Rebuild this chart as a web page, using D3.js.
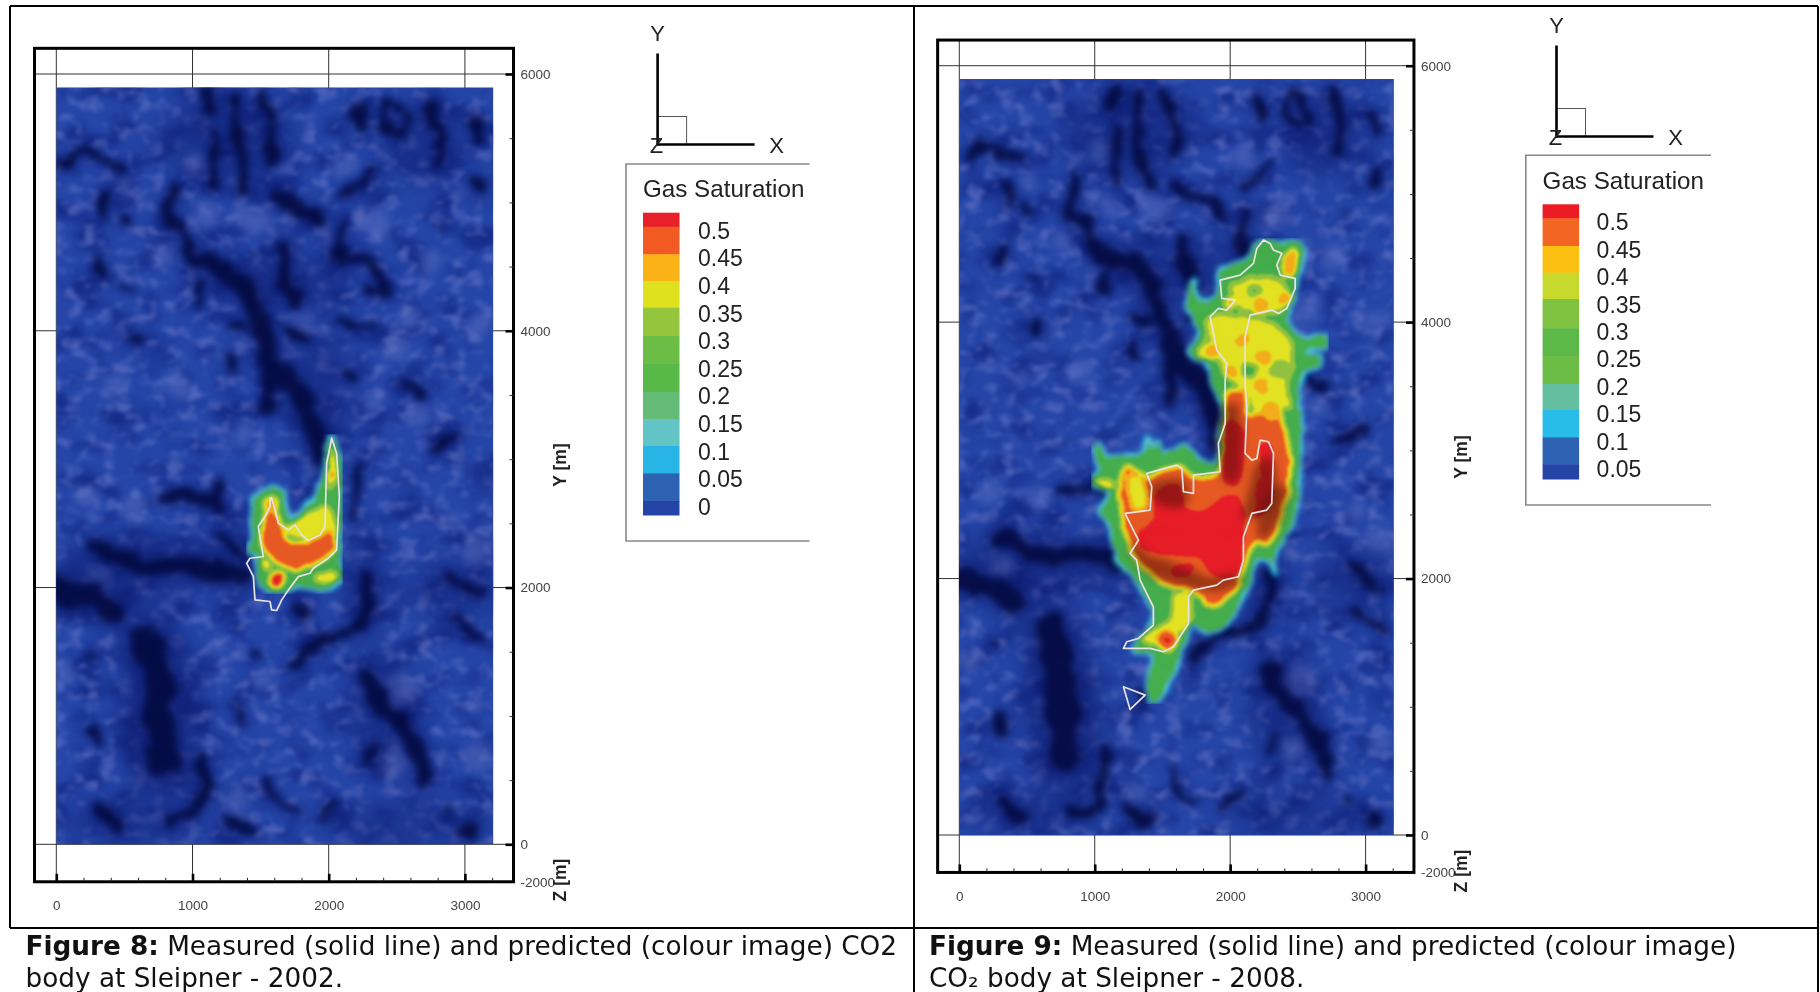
<!DOCTYPE html>
<html><head><meta charset="utf-8">
<style>html,body{margin:0;padding:0;background:#fff}svg{display:block}</style>
<script src="https://cdn.jsdelivr.net/npm/d3@7/dist/d3.min.js"></script>
</head><body><svg id="c" width="1820" height="992" font-family="Liberation Sans, Arial, sans-serif"></svg>
<script>
const legendColors8=["#e8202a","#f15a22","#fbb216","#dfe01e","#95c53d","#6cbd45","#58b848","#63bb76","#62c4c4","#28b5e5","#2e62b3","#2445a5"];
const legendColors9=["#ed1c24","#f26522","#fcc012","#c8d92e","#7fc241","#5cb848","#6cbd45","#63bfa0","#28bde8","#2e62b3","#2445a5"];
const bandColors=["#ed1c24","#ee5a1e","#fbb216","#e8e61e","#95c53d","#6cbd45","#45b24a","#4cb98a","#4fc4cf","#28b5e5","#2e62b3"];
const legendLabels8=["0.5","0.45","0.4","0.35","0.3","0.25","0.2","0.15","0.1","0.05","0"];
const legendLabels9=["0.5","0.45","0.4","0.35","0.3","0.25","0.2","0.15","0.1","0.05"];
const xMajor=[0,1000,2000,3000];
const yMajor=[0,2000,4000,6000];
const imageExtent={x:[0,3209],y:[0,5896]};

// dark troughs of the seismic map, width in metres listed alongside
const darkWidths=[135,100,60,60,100,70,120,85,80,100,70,70,65,80,50,80,60,110,40,70,70,100,75,60,40,50,80,60,60,60,40,45,220,170,130,70,55,50,70,110,70,95,70,110,60,60,60,50,50,90,70,90,60,40,40,60,40];
const darkTroughs=[
 [[1028,4543],[1199,4491],[1370,4361],[1468,4127],[1542,3893],[1615,3712],[1762,3556],[1860,3348],[1933,3088],[1958,2948]],
 [[1566,3634],[1542,3400]],
 [[1272,3815],[1285,3712]],
 [[1077,4387],[1052,4231]],
 [[1664,4621],[1688,4387],[1762,4257]],
 [[2104,4854],[2080,4621],[2202,4543],[2374,4439],[2447,4335],[2276,4309]],
 [[2080,4633],[2100,4600]],
 [[1591,5062],[1688,5010],[1860,4932],[1933,4828]],
 [[856,5140],[832,4906],[905,4776],[1028,4569]],
 [[1138,5841],[1126,5711]],
 [[1297,5815],[1334,5581],[1346,5374],[1395,5062]],
 [[1517,5815],[1566,5633],[1591,5322]],
 [[1175,5503],[1138,5114]],
 [[2227,5737],[2227,5607]],
 [[2423,5763],[2410,5581],[2569,5568],[2582,5685],[2447,5776]],
 [[2741,5763],[2765,5633],[2814,5503],[2777,5322]],
 [[3071,5633],[3071,5477]],
 [[3083,5140],[3090,5120]],
 [[2851,4828],[2853,4820]],
 [[49,5283],[196,5374],[318,5335],[465,5270]],
 [[318,4569],[318,4465]],
 [[563,3945],[563,3930]],
 [[489,4906],[526,4854]],
 [[318,5062],[367,4906]],
 [[465,4361],[587,4309]],
 [[2202,3659],[2104,3659]],
 [[2569,3582],[2692,3504]],
 [[2961,3166],[2790,3088]],
 [[1297,4023],[1395,3997]],
 [[1713,4023],[1835,3919]],
 [[2055,4049],[2325,4049]],
 [[2325,5244],[2104,5023]],
 [[661,1597],[734,1337],[759,973],[783,636]],
 [[0,1986],[220,1934],[392,1830]],
 [[318,2324],[612,2168],[856,2194],[1223,2116],[1370,2064]],
 [[759,2700],[1175,2687]],
 [[1199,2428],[1370,2272]],
 [[1199,2817],[1175,2609]],
 [[294,895],[318,791]],
 [[2276,1311],[2374,1129],[2545,921],[2667,688],[2716,506]],
 [[2227,1648],[1958,1570],[1713,1389]],
 [[2276,2064],[2288,1908],[2202,1674]],
 [[1786,1830],[1823,1752]],
 [[3034,129],[3060,110]],
 [[2863,272],[2880,250]],
 [[2912,1752],[3132,1597]],
 [[2887,2090],[3132,1934]],
 [[2276,636],[2349,766]],
 [[1566,506],[1664,298],[1762,272]],
 [[318,272],[440,142]],
 [[832,194],[1028,246],[1077,662]],
 [[1248,220],[1395,116]],
 [[1933,194],[2055,324]],
 [[2202,2947],[2202,2531]],
 [[1444,1467],[1470,1460]],
 [[269,1493],[280,1490]],
 [[1321,1129],[1370,947]]
];
// broad darker zones: [x, y, rx, ry]
const darkZones=[[500,2100,520,280],[760,1000,290,720],[1300,2250,320,230],[1650,4400,520,220],[2400,1000,260,520],[1250,5500,520,330],[2700,5450,320,320],[2900,2000,330,230],[2500,150,520,160],[550,170,520,170],[1950,3500,220,500],[2260,2000,160,400]];
// lighter mottles: [x, y, radius]
const lightSpots=[[1444,4880,120],[1028,5322,80],[2104,5296,90],[2496,3867,90],[1101,4906,90],[2349,4854,110],[2765,4517,90],[2594,4101,90],[3083,4023,80],[2667,3348,90],[2325,3426,70],[881,3608,90],[440,3556,90],[1370,3192,80],[514,5114,80],[783,4620,80],[1786,4101,70],[587,2635,100],[2520,1207,130],[3108,688,100],[3108,2298,110],[49,1311,80],[2912,2531,70],[1199,1571,70],[1493,1259,80],[2496,662,110],[318,2064,60],[220,2687,90],[1321,324,80]];

// saturation outline and zones, 2008
const plume08=[[2246,4653],[2369,4614],[2517,4627],[2529,4484],[2492,4354],[2467,4172],[2418,4042],[2443,3938],[2566,3873],[2714,3886],[2714,3821],[2578,3795],[2541,3756],[2664,3730],[2664,3665],[2541,3613],[2504,3496],[2517,3236],[2512,2976],[2504,2716],[2467,2456],[2394,2326],[2320,2144],[2332,2040],[2283,2144],[2197,2144],[2123,1936],[2024,1728],[1901,1598],[1803,1598],[1716,1650],[1655,1468],[1593,1312],[1507,1130],[1433,1026],[1396,1104],[1421,1312],[1433,1416],[1286,1442],[1396,1598],[1433,1728],[1384,1858],[1310,1988],[1163,2170],[1113,2430],[1039,2508],[1113,2690],[978,2742],[1039,2872],[990,3002],[1027,3054],[1089,2950],[1212,2950],[1360,2976],[1384,3106],[1421,3002],[1470,3067],[1507,2976],[1655,3028],[1778,2924],[1901,2898],[1926,3080],[1950,3340],[1877,3522],[1827,3704],[1704,3756],[1778,3912],[1692,4120],[1729,4328],[1766,4172],[1901,4198],[1926,4406],[2123,4471],[2184,4588]];
const zones08=[
 {s:0.36,p:[[1999,4276],[2197,4354],[2344,4341],[2418,4276],[2394,4094],[2221,4068],[2073,4094]]},
 {s:0.44,p:[[2394,4484],[2467,4575],[2504,4510],[2467,4380],[2394,4380]]},
 {s:0.37,p:[[1827,4016],[2123,4042],[2418,3912],[2467,3704],[2418,3470],[2455,3340],[2320,3340],[2197,3262],[2123,3444],[1975,3574],[1901,3704],[1753,3730],[1827,3886]]},
 {s:0.28,p:[[2098,3678],[2197,3652],[2172,3574],[2110,3574]]},
 {s:0.47,p:[[1975,3444],[2110,3470],[2135,3262],[2320,3327],[2394,3184],[2443,2924],[2430,2690],[2369,2456],[2270,2261],[2197,2287],[2098,2092],[2049,1910],[1901,1832],[1778,1858],[1692,1910],[1581,1936],[1409,2040],[1286,2196],[1212,2430],[1187,2742],[1236,2872],[1384,2794],[1507,2846],[1643,2872],[1729,2794],[1901,2820],[1950,3106]]},
 {s:0.38,p:[[1249,2794],[1347,2794],[1384,2560],[1298,2534],[1249,2638]]},
 {s:0.38,p:[[1015,2768],[1138,2742],[1138,2703],[1015,2729]]},
 {s:0.38,p:[[1581,1858],[1692,1884],[1704,1650],[1606,1572],[1458,1494],[1335,1520],[1556,1676]]},
 {s:0.47,p:[[1827,1910],[1975,1858],[1901,1780],[1827,1806]]},
 {s:0.49,p:[[1433,2742],[1655,2742],[1716,2586],[2024,2690],[2123,2508],[2086,2066],[1852,1988],[1581,2144],[1335,2196],[1335,2378],[1433,2534]]},
 {s:0.58,p:[[1458,2638],[1606,2716],[1667,2534],[1803,2508],[1999,2638],[2073,2612],[2073,2196],[2049,2040],[1877,2040],[1803,2170],[1606,2196],[1360,2248],[1335,2326],[1458,2456]]},
 {s:0.55,p:[[1987,3236],[2086,3184],[2098,2976],[2049,2716],[1950,2794],[1950,2976]]},
 {s:0.55,p:[[2221,3054],[2295,3028],[2307,2768],[2283,2560],[2197,2482],[2197,2664],[2233,2820]]},
 {s:0.55,p:[[1581,2092],[1729,2092],[1655,2014],[1556,2040]]}
];
const spots08=[[2246,3730,55,0.45],[2233,3509,55,0.45],[2221,4133,55,0.45],[2012,3613,45,0.45],[1864,3769,50,0.45],[2086,3860,50,0.44],[1532,1520,70,0.5],[2369,3626,70,0.31],[1827,3860,40,0.32],[2180,4240,40,0.29],[2410,4180,50,0.44],[2320,3500,70,0.39],[1980,3850,60,0.39],[2300,3300,70,0.44],[2010,4150,40,0.42]];
const shade08=[[[1261,2300],[1384,2196],[1606,2118],[1852,2014],[2073,2040],[2049,1962],[1827,1910],[1556,1962],[1335,2092]],[[2197,2456],[2344,2716],[2418,2716],[2369,2456],[2270,2326],[2197,2326]],[[1950,3350],[2060,3350],[2090,2950],[2049,2750],[1940,2800]],[[1400,2720],[1660,2760],[1700,2600],[1500,2560]],[[2120,2460],[2200,2900],[2320,2960],[2300,2560]]];
const measured08=[[2246,4640],[2295,4614],[2320,4562],[2381,4536],[2344,4445],[2369,4367],[2480,4341],[2480,4263],[2418,4107],[2357,4068],[2307,4094],[2147,4055],[2110,3886],[2110,3522],[2123,3314],[2110,2976],[2160,2924],[2197,2937],[2221,3080],[2283,3067],[2320,2976],[2307,2586],[2270,2534],[2160,2508],[2098,2326],[2098,2144],[2061,2014],[1950,1988],[1901,1949],[1729,1910],[1692,1858],[1692,1650],[1581,1468],[1507,1429],[1409,1455],[1212,1455],[1236,1507],[1323,1533],[1433,1637],[1433,1780],[1335,1988],[1310,2144],[1261,2196],[1323,2300],[1273,2404],[1224,2508],[1409,2534],[1421,2716],[1384,2820],[1606,2885],[1643,2859],[1655,2677],[1729,2664],[1729,2807],[1926,2833],[1913,3054],[1963,3210],[1963,3548],[1975,3678],[1901,3782],[1852,4042],[1913,4107],[1975,4094],[2037,4172],[1938,4185],[1926,4328],[2073,4367],[2172,4458],[2197,4575]];
const triangle08=[[1212,1156],[1372,1091],[1261,979]];

// saturation outline and zones, 2002
const plume02=[[2022,3189],[2058,3098],[2088,2942],[2095,2527],[2071,2267],[2095,2059],[1936,1982],[1814,2020],[1618,1956],[1496,2033],[1471,2267],[1398,2280],[1447,2397],[1447,2683],[1594,2774],[1655,2748],[1716,2527],[1863,2657],[1961,2839],[1990,3098]];
const zones02=[
 {s:0.38,p:[[1691,2449],[1863,2579],[1985,2631],[2058,2423],[2034,2319],[1814,2371]]},
 {s:0.36,p:[[1997,3046],[2046,3046],[2058,2865],[1997,2761],[1980,2865]]},
 {s:0.49,p:[[1566,2596],[1627,2557],[1688,2376],[1860,2350],[2006,2441],[2043,2324],[1958,2220],[1762,2142],[1591,2220],[1517,2350],[1517,2480]]},
 {s:0.39,p:[[1899,2085],[2046,2111],[2058,2059],[1936,2033]]}
];
const spots02=[[2034,2877,28,0.47],[1618,2059,50,0.53],[1545,2176,30,0.4],[1581,2644,55,0.43],[1690,2440,30,0.39]];
const measured02=[[1581,2696],[1606,2605],[1630,2501],[1704,2449],[1753,2488],[1802,2410],[1850,2366],[1936,2410],[1973,2475],[1985,2968],[2022,3163],[2058,3046],[2078,2709],[2058,2293],[1997,2228],[1887,2150],[1863,2111],[1777,2085],[1704,1981],[1655,1904],[1618,1821],[1581,1826],[1569,1891],[1459,1904],[1447,2085],[1398,2189],[1422,2228],[1520,2241],[1483,2475],[1532,2553],[1569,2631],[1569,2696]];

const captionBold=["Figure 8:","Figure 9:"];
const caption8=["\u00a0Measured (solid line) and predicted (colour image) CO2","body at Sleipner - 2002."];
const caption9=["\u00a0Measured (solid line) and predicted (colour image)","CO\u2082 body at Sleipner - 2008."];

const svg=d3.select("#c");
const defs=svg.append("defs");
function soft(id,sd,disp){
  const f=defs.append("filter").attr("id",id).attr("x","-5%").attr("y","-5%").attr("width","110%").attr("height","110%").attr("color-interpolation-filters","sRGB");
  if(disp){
    f.append("feTurbulence").attr("type","fractalNoise").attr("baseFrequency",0.04).attr("numOctaves",3).attr("seed",7).attr("result","n");
    f.append("feDisplacementMap").attr("in","SourceGraphic").attr("in2","n").attr("scale",disp).attr("xChannelSelector","R").attr("yChannelSelector","G").attr("result","d");
    f.append("feGaussianBlur").attr("in","d").attr("stdDeviation",sd);
  } else f.append("feGaussianBlur").attr("stdDeviation",sd);
}
soft("troughBlur",3.8,20);soft("haloBlur",8,20);soft("zoneBlur",13,0);soft("spotBlur",5,24);soft("shadeBlur",4,8);

// maps grey (saturation/0.6) through the discrete legend colours
function bandFilter(id){
  const f=defs.append("filter").attr("id",id).attr("x","0").attr("y","0").attr("width","100%").attr("height","100%").attr("color-interpolation-filters","sRGB");
  f.append("feTurbulence").attr("type","fractalNoise").attr("baseFrequency",0.09).attr("numOctaves",2).attr("seed",11).attr("result","n");
  f.append("feDisplacementMap").attr("in","SourceGraphic").attr("in2","n").attr("scale",7).attr("xChannelSelector","R").attr("yChannelSelector","G").attr("result","s");
  f.append("feGaussianBlur").attr("in","s").attr("stdDeviation",2.4).attr("result","b");
  const N=24;
  const ramp=[]; for(let i=0;i<N;i++){const s=(i+0.5)*0.025;
    let k; if(s<0.05)k=-1; else if(s<0.1)k=10; else if(s<0.15)k=9; else if(s<0.2)k=8; else if(s<0.25)k=7; else if(s<0.3)k=6; else if(s<0.35)k=4; else if(s<0.4)k=3; else if(s<0.45)k=2; else if(s<0.5)k=1; else k=0;
    ramp.push(k);}
  const rgb=ramp.map(k=>k<0?d3.rgb(0,0,0):d3.rgb(bandColors[k]));
  const t=f.append("feComponentTransfer").attr("in","b").attr("result","c");
  t.append("feFuncR").attr("type","discrete").attr("tableValues",rgb.map(c=>(c.r/255).toFixed(3)).join(" "));
  t.append("feFuncG").attr("type","discrete").attr("tableValues",rgb.map(c=>(c.g/255).toFixed(3)).join(" "));
  t.append("feFuncB").attr("type","discrete").attr("tableValues",rgb.map(c=>(c.b/255).toFixed(3)).join(" "));
  f.append("feColorMatrix").attr("in","b").attr("type","matrix").attr("values","0 0 0 0 0 0 0 0 0 0 0 0 0 0 0 1 0 0 0 0").attr("result","a0");
  const a=f.append("feComponentTransfer").attr("in","a0").attr("result","a");
  a.append("feFuncA").attr("type","discrete").attr("tableValues",ramp.map(k=>k<0?0:0.97).join(" "));
  f.append("feComposite").attr("in","c").attr("in2","a").attr("operator","in").attr("result","d");
  f.append("feGaussianBlur").attr("in","d").attr("stdDeviation",1.1);
}
bandFilter("bands");
function noise(id,freq,seed,rgb,k,o,sd){
  const f=defs.append("filter").attr("id",id).attr("x","0").attr("y","0").attr("width","100%").attr("height","100%").attr("color-interpolation-filters","sRGB");
  f.append("feTurbulence").attr("type","fractalNoise").attr("baseFrequency",freq).attr("numOctaves",2).attr("seed",seed).attr("result","n");
  f.append("feColorMatrix").attr("in","n").attr("type","matrix").attr("values",`0 0 0 0 ${rgb[0]}  0 0 0 0 ${rgb[1]}  0 0 0 0 ${rgb[2]}  ${k} 0 0 0 ${o}`).attr("result","m");
  f.append("feGaussianBlur").attr("in","m").attr("stdDeviation",sd);
}
noise("mottle","0.06 0.08",4,[0.36,0.43,0.76],3.4,-1.65,1.4);
noise("mottleDark","0.028 0.04",9,[0.05,0.1,0.45],3.4,-1.6,2);

const grey=s=>{const v=Math.round(Math.min(1,s/0.6)*255);return d3.rgb(v,v,v)+"";};

function drawPanel(o,i){
  const x=d3.scaleLinear().domain([0,3000]).range(o.xr);
  const y=d3.scaleLinear().domain([0,6000]).range(o.yr);
  const frameX=[-160,3357], frameY=[-292,6200];
  const g=svg.append("g");
  const line=d3.line().x(d=>x(d[0])).y(d=>y(d[1]));
  const smooth=d3.line().x(d=>x(d[0])).y(d=>y(d[1])).curve(d3.curveCatmullRomClosed.alpha(0.5));
  const smoothOpen=d3.line().x(d=>x(d[0])).y(d=>y(d[1])).curve(d3.curveCatmullRom.alpha(0.5));
  const X0=x(0),Y0=y(imageExtent.y[1]),W=x(imageExtent.x[1])-x(0),H=y(0)-y(imageExtent.y[1]);

  g.selectAll("line.gx").data(xMajor).join("line").attr("class","gx").attr("x1",d=>x(d)).attr("x2",d=>x(d)).attr("y1",y(frameY[0])).attr("y2",y(frameY[1])).attr("stroke","#333").attr("stroke-width",1);
  g.selectAll("line.gy").data(yMajor).join("line").attr("class","gy").attr("y1",d=>y(d)).attr("y2",d=>y(d)).attr("x1",x(frameX[0])).attr("x2",x(frameX[1])).attr("stroke","#333").attr("stroke-width",1);

  const cid="clip"+i;
  defs.append("clipPath").attr("id",cid).append("rect").attr("x",X0).attr("y",Y0).attr("width",W).attr("height",H);
  const m=g.append("g").attr("clip-path",`url(#${cid})`);
  const full=()=>m.append("rect").attr("x",X0).attr("y",Y0).attr("width",W).attr("height",H);
  full().attr("fill","#2546a8");
  full().attr("filter","url(#mottleDark)").attr("opacity",0.55);
  full().attr("filter","url(#mottle)").attr("opacity",0.7);
  m.append("g").attr("filter","url(#zoneBlur)").selectAll("ellipse").data(darkZones).join("ellipse")
    .attr("cx",d=>x(d[0])).attr("cy",d=>y(d[1])).attr("rx",d=>x(d[2])-x(0)).attr("ry",d=>y(0)-y(d[3])).attr("fill","#0c1a70").attr("opacity",0.42);
  m.append("g").attr("filter","url(#spotBlur)").selectAll("circle").data(lightSpots).join("circle")
    .attr("cx",d=>x(d[0])).attr("cy",d=>y(d[1])).attr("r",d=>x(d[2])-x(0)).attr("fill","#6677c4").attr("opacity",0.42);
  m.append("g").attr("filter","url(#haloBlur)").attr("opacity",0.4).selectAll("path").data(darkTroughs).join("path")
    .attr("d",d=>smoothOpen(d)).attr("fill","none").attr("stroke","#0a1566").attr("stroke-linecap","round").attr("stroke-linejoin","round")
    .attr("stroke-width",(d,j)=>(x(darkWidths[j])-x(0))*2);
  m.append("g").attr("filter","url(#troughBlur)").attr("opacity",0.92).selectAll("path").data(darkTroughs).join("path")
    .attr("d",d=>smoothOpen(d)).attr("fill","none").attr("stroke","#040b42").attr("stroke-linecap","round").attr("stroke-linejoin","round")
    .attr("stroke-width",(d,j)=>x(darkWidths[j])-x(0));

  const pg=m.append("g").attr("filter","url(#bands)");
  pg.append("path").attr("d",smooth(o.plume)).attr("fill",grey(0.29)).attr("stroke",grey(0.13)).attr("stroke-width",6).attr("paint-order","stroke");
  pg.selectAll("path.z").data(o.zones).join("path").attr("class","z").attr("d",d=>smooth(d.p)).attr("fill",d=>grey(d.s));
  pg.selectAll("circle").data(o.spots).join("circle").attr("cx",d=>x(d[0])).attr("cy",d=>y(d[1])).attr("r",d=>x(d[2])-x(0)).attr("fill",d=>grey(d[3]));
  if(o.shade.length){
    m.append("g").attr("filter","url(#shadeBlur)").selectAll("path").data(o.shade).join("path").attr("d",d=>smooth(d)).attr("fill","#4a0d05").attr("opacity",0.5);
  }
  m.selectAll("path.ml").data(o.measured).join("path").attr("class","ml").attr("d",d=>line(d)+"Z").attr("fill","none").attr("stroke","#e8e2e4").attr("stroke-width",1.7).attr("stroke-linejoin","round");

  g.append("rect").attr("x",x(frameX[0])).attr("y",y(frameY[1])).attr("width",x(frameX[1])-x(frameX[0])).attr("height",y(frameY[0])-y(frameY[1])).attr("fill","none").attr("stroke","#000").attr("stroke-width",3);

  const minorX=d3.range(0,3201,200), minorY=d3.range(0,6001,500);
  const bx=g.append("g").attr("transform",`translate(0,${y(frameY[0])})`);
  bx.call(d3.axisBottom(x).tickValues(minorX).tickSize(-4).tickFormat("")).call(s=>s.select(".domain").remove()).selectAll("line").attr("stroke","#222");
  const bx2=g.append("g").attr("transform",`translate(0,${y(frameY[0])})`);
  bx2.call(d3.axisBottom(x).tickValues(xMajor).tickSize(-8).tickPadding(19).tickFormat(d3.format("d"))).call(s=>s.select(".domain").remove());
  bx2.selectAll("line").attr("stroke","#000").attr("stroke-width",2.6);
  bx2.selectAll("text").attr("font-size",13.5).attr("fill","#444").attr("font-family","Liberation Sans");
  const ry=g.append("g").attr("transform",`translate(${x(frameX[1])},0)`);
  ry.call(d3.axisRight(y).tickValues(minorY).tickSize(-4).tickFormat("")).call(s=>s.select(".domain").remove()).selectAll("line").attr("stroke","#333");
  const ry2=g.append("g").attr("transform",`translate(${x(frameX[1])},0)`);
  ry2.call(d3.axisRight(y).tickValues(yMajor).tickSize(-8).tickPadding(7).tickFormat(d3.format("d"))).call(s=>s.select(".domain").remove());
  ry2.selectAll("line").attr("stroke","#000").attr("stroke-width",2.6);
  ry2.selectAll("text").attr("font-size",13.5).attr("fill","#444").attr("font-family","Liberation Sans").attr("text-anchor","start").attr("x",7);
  g.append("text").attr("x",x(frameX[1])+7).attr("y",y(frameY[0])+5).attr("font-size",13.5).attr("fill","#444").text("-2000");
  g.append("text").attr("transform",`translate(${o.ylab[0]},${o.ylab[1]}) rotate(-90)`).attr("text-anchor","middle").attr("font-size",17.5).attr("font-weight","bold").attr("fill","#222").text("Y [m]");
  g.append("text").attr("transform",`translate(${o.zlab[0]},${o.zlab[1]}) rotate(-90)`).attr("text-anchor","middle").attr("font-size",17.5).attr("font-weight","bold").attr("fill","#222").text("Z [m]");

  const t=o.triad;
  g.append("rect").attr("x",t.x).attr("y",t.y-28).attr("width",29).attr("height",28).attr("fill","none").attr("stroke","#555").attr("stroke-width",1);
  g.append("line").attr("x1",t.x).attr("x2",t.x).attr("y1",t.y-91).attr("y2",t.y+1).attr("stroke","#000").attr("stroke-width",2.6);
  g.append("line").attr("x1",t.x-1).attr("x2",t.x+97).attr("y1",t.y).attr("y2",t.y).attr("stroke","#000").attr("stroke-width",2.6);
  g.append("text").attr("x",t.x).attr("y",t.y-104).attr("text-anchor","middle").attr("font-size",22).attr("fill","#222").text("Y");
  g.append("text").attr("x",t.x+119).attr("y",t.y+8).attr("text-anchor","middle").attr("font-size",22).attr("fill","#222").text("X");
  g.append("text").attr("x",t.x-1).attr("y",t.y+8).attr("text-anchor","middle").attr("font-size",22).attr("fill","#222").text("Z");

  const L=o.legend;
  g.append("path").attr("d",`M${L.r},${L.t}H${L.l}V${L.b}H${L.r}`).attr("fill","none").attr("stroke","#888").attr("stroke-width",1.6);
  g.append("text").attr("x",L.sx).attr("y",L.ty).attr("font-size",24.2).attr("fill","#222").text("Gas Saturation");
  const sw=g.append("g");
  sw.selectAll("rect").data(L.edges.slice(0,-1)).join("rect").attr("x",L.sx).attr("width",36.5).attr("y",d=>d).attr("height",(d,j)=>L.edges[j+1]-d+0.5).attr("fill",(d,j)=>L.colors[j]);
  g.selectAll("text.lg").data(L.labels).join("text").attr("class","lg").attr("x",L.lx).attr("y",(d,j)=>L.y0+j*L.dy+8).attr("font-size",23).attr("fill","#222").text(d=>d);

  const c=o.cap;
  const tx=g.append("text").attr("x",c.x).attr("y",955).attr("font-family","DejaVu Sans").attr("font-size",26.3).attr("fill","#111");
  tx.append("tspan").attr("font-weight","bold").text(c.bold);
  tx.append("tspan").text(c.lines[0]);
  g.append("text").attr("x",c.x).attr("y",987).attr("font-family","DejaVu Sans").attr("font-size",26.3).attr("fill","#111").text(c.lines[1]);
}

const rules=[[10,6,1818,6],[10,6,10,928],[914,6,914,992],[1818,6,1818,992],[10,928,1818,928]];
svg.selectAll("line.t").data(rules).join("line").attr("class","t").attr("x1",d=>d[0]).attr("y1",d=>d[1]).attr("x2",d=>d[2]).attr("y2",d=>d[3]).attr("stroke","#000").attr("stroke-width",2);

drawPanel({xr:[56.3,464.9],yr:[844.3,74],plume:plume02,zones:zones02,spots:spots02,shade:[],measured:[measured02],ylab:[566,465],zlab:[566,880],
 triad:{x:657.6,y:144.5},
 legend:{colors:legendColors8,l:626,t:164,r:809.6,b:541,sx:643,ty:197,lx:698,y0:230.7,dy:27.6,labels:legendLabels8,edges:[212.7,226.7,254.3,281,307.7,336,364,391.7,419,446,473.3,501,515]},
 cap:{x:25.5,bold:captionBold[0],lines:caption8}},0);
drawPanel({xr:[959.3,1365.6],yr:[835,65.7],plume:plume08,zones:zones08,spots:spots08,shade:shade08,measured:[measured08,triangle08],ylab:[1467,457],zlab:[1467,871],
 triad:{x:1556.5,y:136.5},
 legend:{colors:legendColors9,l:1525.8,t:155.3,r:1711,b:505,sx:1542.6,ty:189,lx:1596.6,y0:222.3,dy:27.4,labels:legendLabels9,edges:[204.3,218.3,246,272.7,299,328.3,356,384,410,437.3,464.3,479]},
 cap:{x:929,bold:captionBold[1],lines:caption9}},1);
</script></body></html>
